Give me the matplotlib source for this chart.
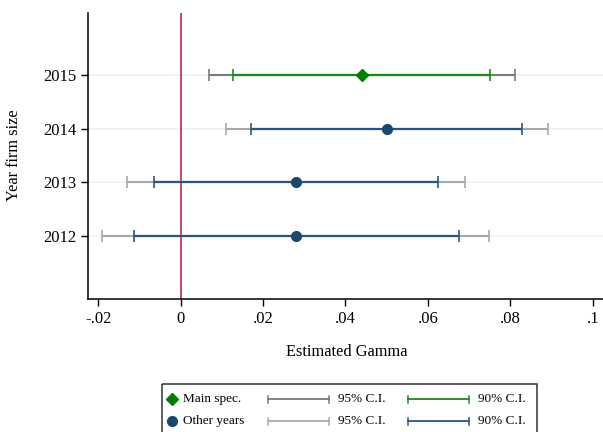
import numpy as np
import matplotlib
matplotlib.use('Agg')
import matplotlib.pyplot as plt
from matplotlib.patches import Rectangle

plt.rcParams['font.family'] = ['Liberation Serif', 'DejaVu Serif']

# estimates
years = [2012, 2013, 2014, 2015]
gamma = [0.028, 0.028, 0.050, 0.044]
ci95_lo = [-0.0190, -0.0131, 0.0109, 0.0068]
ci95_hi = [0.0749, 0.0691, 0.0891, 0.0812]
ci90_lo = [-0.0114, -0.0065, 0.0171, 0.0128]
ci90_hi = [0.0675, 0.0625, 0.0829, 0.0752]
main_year = 2015

xticks = [-0.02, 0, 0.02, 0.04, 0.06, 0.08, 0.1]
xticklabels = ['-.02', '0', '.02', '.04', '.06', '.08', '.1']

green = '#1a8a1a'
green_dark = '#008000'
navy = '#1a476f'
navy_ci = '#2a5580'
gray_main = '#7a7a7a'
gray_other = '#a8a8a8'
red = '#b5163c'

W, H = 603, 432
fig = plt.figure(figsize=(W / 100, H / 100), dpi=100)
ax = fig.add_axes([88.3 / W, 1 - 299 / H, (W - 88.3) / W, (299 - 13) / H])

for y in years:
    ax.axhline(y, color='#edf2f2', lw=1.2, zorder=0)
ax.axvline(0, color=red, lw=1.1, zorder=1)

for i, y in enumerate(years):
    is_main = y == main_year
    c95 = gray_main if is_main else gray_other
    c90 = green if is_main else navy_ci
    ax.errorbar([gamma[i]], [y], xerr=[[gamma[i] - ci95_lo[i]], [ci95_hi[i] - gamma[i]]],
                fmt='none', ecolor=c95, elinewidth=1.5, capsize=4, capthick=1.2, zorder=2)
    ax.errorbar([gamma[i]], [y], xerr=[[gamma[i] - ci90_lo[i]], [ci90_hi[i] - gamma[i]]],
                fmt='none', ecolor=c90, elinewidth=1.6, capsize=4, capthick=1.2, zorder=3)
    if is_main:
        ax.plot(gamma[i], y, marker='D', color=green_dark, ms=6.5, zorder=4)
    else:
        ax.plot(gamma[i], y, marker='o', color=navy, ms=7, zorder=4)

ax.set_xlim(-0.0224, 0.1025)
ax.set_ylim(2010.83, 2016.15)
ax.set_xticks(xticks)
ax.set_xticklabels(xticklabels, fontsize=12)
ax.set_yticks(years)
ax.set_yticklabels([str(y) for y in years], fontsize=12)
ax.tick_params(length=5, width=1, color='black', pad=3.5)
for s in ['top', 'right']:
    ax.spines[s].set_visible(False)
for s in ['left', 'bottom']:
    ax.spines[s].set_linewidth(1.1)

fig.text(347 / W, 1 - 352 / H, 'Estimated Gamma', fontsize=11.8, ha='center', va='center')
fig.text(14 / W, 1 - 155 / H, 'Year firm size', fontsize=11.8, ha='center', va='center',
         rotation=90)

# legend drawn in its own box, running off the bottom edge like the original
lg = fig.add_axes([161 / W, 1 - 445 / H, (537 - 161) / W, (445 - 383) / H])
lg.set_xlim(161, 537)
lg.set_ylim(445, 383)
lg.axis('off')
lg.add_patch(Rectangle((161.5, 383.5), 375, 61, fill=False, ec='#333333', lw=1.1, clip_on=False))

rows = [('Main spec.', 'D', green_dark, gray_main, green),
        ('Other years', 'o', navy, gray_other, navy_ci)]
for (label, mk, mc, c95, c90), yy in zip(rows, [399, 421]):
    lg.plot(171.7, yy, marker=mk, color=mc, ms=6.5 if mk == 'D' else 7)
    lg.text(183, yy, label, fontsize=9.5, va='center')
    for x0, x1, col in [(268, 329, c95), (408, 469, c90)]:
        lg.plot([x0, x1], [yy, yy], color=col, lw=1.3)
        lg.plot([x0, x0], [yy - 3.5, yy + 3.5], color=col, lw=1.1)
        lg.plot([x1, x1], [yy - 3.5, yy + 3.5], color=col, lw=1.1)
        lg.text(x1 + 9, yy, '95% C.I.' if x0 == 268 else '90% C.I.', fontsize=9.5, va='center')

fig.savefig('out.png', dpi=100)
